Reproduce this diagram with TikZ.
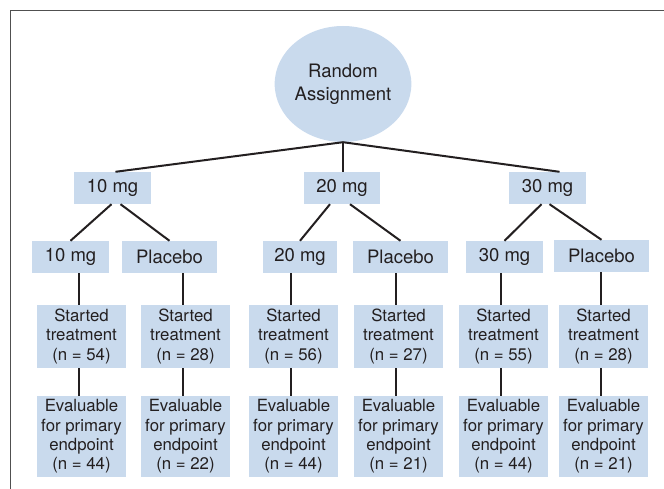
\documentclass[tikz,border=0pt]{standalone}
\usepackage{fontspec}
\setmainfont{TeX Gyre Heros}
\usetikzlibrary{shapes.geometric}
\definecolor{boxblue}{RGB}{201,218,237}
\definecolor{ink}{RGB}{35,31,32}
\definecolor{framegray}{RGB}{80,80,80}
\begin{document}
\begin{tikzpicture}[x=1pt, y=-1pt,
  dose/.style={rectangle, fill=boxblue, text=ink, inner sep=0pt, minimum height=32pt,
    font=\fontsize{18.5}{23}\selectfont},
  count/.style={rectangle, fill=boxblue, text=ink, inner sep=0pt, align=center,
    minimum width=89pt, font=\fontsize{16.8}{19.3}\selectfont},
  link/.style={draw=ink, line width=2pt}]
\useasboundingbox (0,0) rectangle (664,489);
% Frame
\draw[framegray, line width=1.6pt] (10.5,489) -- (10.5,10.5) -- (664,10.5);

% Random assignment
\node[ellipse, fill=boxblue, text=ink, inner sep=0pt, minimum width=127pt, minimum height=116pt,
  align=center, font=\fontsize{18.5}{23}\selectfont] (ra) at (343,84) {Random\\Assignment};

% First doses
\node[dose, minimum width=77pt] (d10) at (112.5,188) {10 mg};
\node[dose, minimum width=76pt] (d20) at (342,188) {20 mg};
\node[dose, minimum width=77pt] (d30) at (547.5,188) {30 mg};

% Second doses
\node[dose, minimum width=77pt] (a10) at (70.5,257) {10 mg};
\node[dose, minimum width=95pt] (p10) at (169.5,257) {Placebo};
\node[dose, minimum width=74pt] (a20) at (300,257) {20 mg};
\node[dose, minimum width=95pt] (p20) at (400.5,257) {Placebo};
\node[dose, minimum width=77pt] (a30) at (504.5,257) {30 mg};
\node[dose, minimum width=95pt] (p30) at (601.5,256) {Placebo};

% Started treatment
\node[count, minimum height=63pt] (s1) at (81.5,336.5) {Started\\treatment\\(n = 54)};
\node[count, minimum height=63pt] (s2) at (185.5,336.5) {Started\\treatment\\(n = 28)};
\node[count, minimum height=63pt] (s3) at (293.5,336.5) {Started\\treatment\\(n = 56)};
\node[count, minimum height=63pt] (s4) at (398.5,336.5) {Started\\treatment\\(n = 27)};
\node[count, minimum height=63pt] (s5) at (503.5,336.5) {Started\\treatment\\(n = 55)};
\node[count, minimum height=63pt] (s6) at (603.5,336.5) {Started\\treatment\\(n = 28)};

% Evaluable
\node[count, minimum height=81pt] (e1) at (81.5,436.5) {Evaluable\\for primary\\endpoint\\(n = 44)};
\node[count, minimum height=81pt] (e2) at (185.5,436.5) {Evaluable\\for primary\\endpoint\\(n = 22)};
\node[count, minimum height=81pt] (e3) at (293.5,436.5) {Evaluable\\for primary\\endpoint\\(n = 44)};
\node[count, minimum height=81pt] (e4) at (398.5,436.5) {Evaluable\\for primary\\endpoint\\(n = 21)};
\node[count, minimum height=81pt] (e5) at (503.5,436.5) {Evaluable\\for primary\\endpoint\\(n = 44)};
\node[count, minimum height=81pt] (e6) at (603.5,436.5) {Evaluable\\for primary\\endpoint\\(n = 21)};

% Links
\draw[link] ([xshift=3pt]d10.north) -- (ra.south) -- ([xshift=12pt]d30.north);
\draw[link] (ra.south) -- (ra.south |- d20.north);
\draw[link] ([xshift=-1pt]d10.south) -- (a10.north);
\draw[link] ([xshift=8pt]d10.south) -- (p10.north);
\draw[link] ([xshift=-12pt]d20.south) -- (a20.north);
\draw[link] ([xshift=8pt]d20.south) -- (p20.north);
\draw[link] ([xshift=-6pt]d30.south) -- (a30.north);
\draw[link] ([xshift=2pt]d30.south) -- (p30.north);
\foreach \i/\up in {1/a10, 2/p10, 3/a20, 4/p20, 5/a30, 6/p30} {
  \draw[link] ([xshift=-3pt]s\i.north) -- ([xshift=-3pt]s\i.north |- \up.south);
  \draw[link] ([xshift=-3pt]s\i.south) -- ([xshift=-3pt]e\i.north);
}
\end{tikzpicture}
\end{document}
